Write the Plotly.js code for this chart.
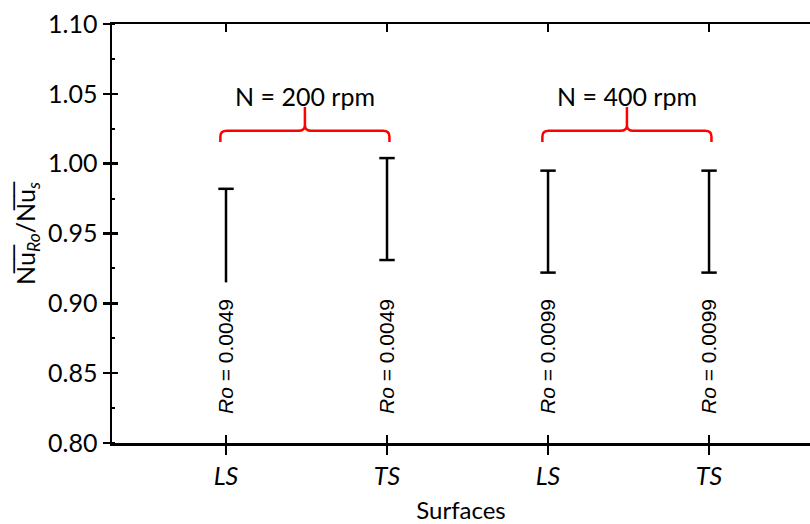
<!DOCTYPE html>
<html>
<head>
<meta charset="utf-8">
<script src="https://cdn.plot.ly/plotly-3.0.1.min.js"></script>
<style>html,body{margin:0;padding:0;background:#fff;}#chart{width:810px;height:524px;}</style>
</head>
<body>
<div id="chart"></div>
<script>
// ---- data ----
const categories = ["LS", "TS", "LS", "TS"];
const xPositions = [1, 2, 3, 4];
const rangeLow  = [0.915, 0.931, 0.922, 0.922];
const rangeHigh = [0.982, 1.004, 0.995, 0.995];
const showBottomCap = [false, true, true, true];
const roValues = ["0.0049", "0.0049", "0.0099", "0.0099"];
const groupLabels = ["N = 200 rpm", "N = 400 rpm"];
const groupMembers = [[0, 1], [2, 3]];
const yTickVals = [0.80, 0.85, 0.90, 0.95, 1.00, 1.05, 1.10];

// ---- styling constants ----
const FONT = "Lato, Open Sans, sans-serif";
const bracketY = 1.0235, bracketEndY = 1.0155, bracketTopY = 1.0405, groupLabelY = 1.0485, roLabelY = 0.8616;
const bracketPadL = 0.035, bracketPadR = 0.015;

// stems
const stemX = [], stemY = [];
xPositions.forEach((x, i) => { stemX.push(x, x, null); stemY.push(rangeLow[i], rangeHigh[i], null); });
// caps
const capX = [], capY = [];
xPositions.forEach((x, i) => {
  capX.push(x); capY.push(rangeHigh[i]);
  if (showBottomCap[i]) { capX.push(x); capY.push(rangeLow[i]); }
});

const traces = [
  {x: stemX, y: stemY, mode: "lines", line: {color: "#000", width: 2.5}, hoverinfo: "skip", showlegend: false},
  {x: capX, y: capY, mode: "markers", marker: {symbol: "line-ew", size: 11, line: {color: "#000", width: 2.5}}, hoverinfo: "skip", showlegend: false},
  {x: [xPositions[0]], y: [rangeLow[0]], xaxis: "x2", yaxis: "y2", mode: "markers", marker: {opacity: 0}, hoverinfo: "skip", showlegend: false}
];

// brackets
const shapes = [];
const annotations = [];
const rx = 0.04, ry = 0.004;
groupMembers.forEach((m, g) => {
  const xa = xPositions[m[0]] - bracketPadL, xb = xPositions[m[1]] + bracketPadR, xm = (xa + xb) / 2;
  const p = `M ${xa},${bracketEndY} L ${xa},${bracketY - ry} Q ${xa},${bracketY} ${xa + rx},${bracketY} ` +
            `L ${xm - rx},${bracketY} Q ${xm},${bracketY} ${xm},${bracketY + ry} L ${xm},${bracketTopY} ` +
            `M ${xm},${bracketY + ry} Q ${xm},${bracketY} ${xm + rx},${bracketY} ` +
            `L ${xb - rx},${bracketY} Q ${xb},${bracketY} ${xb},${bracketY - ry} L ${xb},${bracketEndY}`;
  shapes.push({type: "path", xref: "x", yref: "y", path: p, line: {color: "#ff0000", width: 2.5}});
  annotations.push({x: xm, y: groupLabelY, xref: "x", yref: "y", text: groupLabels[g], showarrow: false,
    xanchor: "center", yanchor: "middle", font: {family: FONT, size: 25, color: "#000"}});
});
xPositions.forEach((x, i) => {
  annotations.push({x: x, y: roLabelY, xref: "x", yref: "y", text: "<i>Ro</i> = " + roValues[i], showarrow: false,
    textangle: -90, xanchor: "center", yanchor: "middle", font: {family: "Liberation Sans, Arial, sans-serif", size: 21, color: "#000"}});
});

const xRange = [0.292, 4.627];
const yRange = [0.80, 1.10];
const OL = "\u0305";
const layout = {
  width: 810, height: 524,
  margin: {l: 112, r: 0, t: 24, b: 81},
  paper_bgcolor: "#fff", plot_bgcolor: "#fff",
  font: {family: FONT, size: 25, color: "#000"},
  showlegend: false,
  xaxis: {
    range: xRange, tickvals: xPositions, ticktext: categories.map(c => "<i>" + c + "</i>"),
    showgrid: false, zeroline: false, showline: true, linecolor: "#000", linewidth: 2.5, mirror: true,
    ticks: "outside", ticklen: 9, tickwidth: 2.5, tickcolor: "#000",
    tickfont: {family: FONT, size: 25},
    title: {text: "Surfaces", font: {family: FONT, size: 24}, standoff: 14}
  },
  xaxis2: {
    overlaying: "x", range: xRange, tickvals: xPositions, showticklabels: false,
    showgrid: false, zeroline: false, showline: false, mirror: "ticks",
    ticks: "inside", ticklen: 8, tickwidth: 2.5, tickcolor: "#000"
  },
  yaxis: {
    range: yRange, tickvals: yTickVals, tickformat: ".2f",
    showgrid: false, zeroline: false, showline: true, linecolor: "#000", linewidth: 2.5,
    ticks: "outside", ticklen: 7, tickwidth: 2.5, tickcolor: "#000",
    tickfont: {family: FONT, size: 25},
    minor: {ticks: "inside", ticklen: 3, tickwidth: 2, tickcolor: "#000", dtick: 0.025, showgrid: false},
    title: {text: "N" + OL + "u" + OL + "<sub><i>Ro</i></sub>/N" + OL + "u" + OL + "<sub><i>s</i></sub>", font: {family: FONT, size: 25}, standoff: 6}
  },
  yaxis2: {
    overlaying: "y", range: yRange, tickvals: yTickVals, showticklabels: false,
    showgrid: false, zeroline: false, showline: false,
    ticks: "inside", ticklen: 6, tickwidth: 2.5, tickcolor: "#000"
  },
  shapes: shapes,
  annotations: annotations
};

Plotly.newPlot("chart", traces, layout, {displayModeBar: false, staticPlot: true});
</script>
</body>
</html>
